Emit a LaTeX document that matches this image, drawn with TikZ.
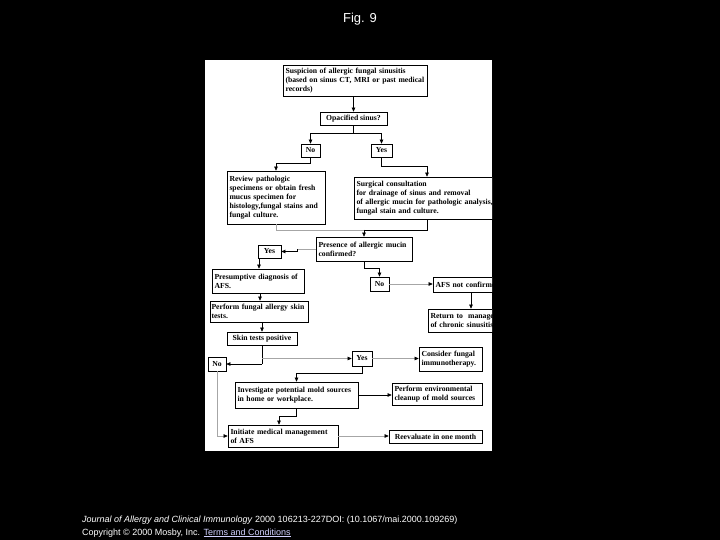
\documentclass[tikz,border=0pt]{standalone}
\usepackage{fontspec}
\setmainfont{Liberation Sans}
\newfontfamily\dfam{Liberation Serif}
\usetikzlibrary{arrows.meta}
\definecolor{linkc}{rgb}{0.82,0.82,1}
\begin{document}
\begin{tikzpicture}[x=1pt,y=-1pt,
  lbox/.style={draw, line width=0.75pt, fill=white, inner xsep=2.5pt, inner ysep=0pt, align=left,
    font=\dfam\bfseries\fontsize{7.7}{9}\selectfont},
  cbox/.style={draw, line width=0.75pt, fill=white, inner sep=0pt, align=center,
    font=\dfam\bfseries\fontsize{7.7}{9}\selectfont},
  ln/.style={line width=0.7pt},
  arr/.style={ln, -{Triangle[length=4pt,width=3.6pt]}},
  gln/.style={line width=0.7pt, draw=black!35},
  garr/.style={gln, -{Triangle[length=4pt,width=3.6pt,color=black]}},
]
\useasboundingbox (0,0) rectangle (720,540);
\fill[black] (0,0) rectangle (720,540);
\node[text=white, font=\fontsize{13}{15}\selectfont] (title) at (360,19) {Fig. 9};
\node[anchor=base west, text=white, inner sep=0pt, font=\fontsize{9}{11}\selectfont] (ref) at (82,522)
  {\textit{Journal of Allergy and Clinical Immunology} 2000 106213-227DOI: (10.1067/mai.2000.109269)};
\node[anchor=base west, text=white, inner sep=0pt, font=\fontsize{9}{11}\selectfont] (copy) at (82,535)
  {Copyright © 2000 Mosby, Inc. \textcolor{linkc}{\underline{Terms and Conditions}}};

\begin{scope}
\clip (205,60) rectangle (492,451);
\fill[white] (205,60) rectangle (492,451);

\node[lbox, text width=139pt, minimum height=31pt] (s1) at (355,80.5)
  {Suspicion of allergic fungal sinusitis\\(based on sinus CT, MRI or past medical\\records)};
\node[cbox, minimum width=67pt, minimum height=13pt] (op) at (353.5,118.5) {Opacified sinus?};
\node[cbox, minimum width=19pt, minimum height=13pt] (no1) at (310.5,150.5) {No};
\node[cbox, minimum width=21pt, minimum height=13pt] (yes1) at (381.5,150.5) {Yes};
\node[lbox, text width=93pt, minimum height=53pt] (rev) at (276,197.5)
  {Review pathologic\\specimens or obtain fresh\\mucus specimen for\\histology,fungal stains and\\fungal culture.};
\node[lbox, text width=138pt, minimum height=42pt] (surg) at (425.5,198)
  {Surgical consultation\\for drainage of sinus and removal\\of allergic mucin for pathologic analysis,\\fungal stain and culture.};
\node[lbox, text width=91pt, minimum height=24pt] (pres) at (364,249)
  {Presence of allergic mucin\\confirmed?};
\node[cbox, minimum width=23pt, minimum height=13pt] (yes2) at (269.5,251.5) {Yes};
\node[lbox, text width=87pt, minimum height=24pt] (presum) at (258,281)
  {Presumptive diagnosis of\\AFS.};
\node[lbox, inner xsep=1pt, text width=96pt, minimum height=21pt] (perf) at (259.5,311.5)
  {Perform fungal allergy skin\\tests.};
\node[cbox, minimum width=70pt, minimum height=13pt] (skin) at (262,338.5) {Skin tests positive};
\node[cbox, minimum width=19pt, minimum height=14pt] (no2) at (379.5,284) {No};
\node[lbox, text width=67pt, minimum height=15pt] (afs) at (469,284.5) {AFS not confirmed.};
\node[lbox, text width=82pt, minimum height=23pt] (ret) at (471.5,320.5)
  {Return to\ \ management\\of chronic sinusitis.};
\node[cbox, minimum width=18pt, minimum height=14pt] (no3) at (217,364) {No};
\node[cbox, minimum width=20pt, minimum height=15pt] (yes3) at (362,358.5) {Yes};
\node[lbox, text width=58pt, minimum height=24pt] (cons) at (450.5,359)
  {Consider fungal\\immunotherapy.};
\node[lbox, text width=118pt, minimum height=26pt] (inv) at (296.5,395)
  {Investigate potential mold sources\\in home or workplace.};
\node[lbox, text width=85pt, minimum height=22pt] (env) at (437,394)
  {Perform environmental\\cleanup of mold sources};
\node[lbox, text width=105pt, minimum height=22pt] (init) at (283,436)
  {Initiate medical management\\of AFS};
\node[cbox, minimum width=93pt, minimum height=13pt] (reev) at (435.5,436.5) {Reevaluate in one month};

% connectors
\coordinate (j1) at (353.5,133);
\draw[arr] (s1.south -| op.north) -- (op.north);
\draw[ln] (op.south) -- (j1);
\draw[arr] (j1) -| (no1.north);
\draw[arr] (j1) -| (yes1.north);
\coordinate (j2) at (310.5,163);
\draw[arr] (no1.south) -- (j2) -| (rev.north);
\coordinate (j3) at (381.5,166);
\coordinate (k427) at (427,166);
\draw[arr] (yes1.south) -- (j3) -- (k427) -- (k427 |- surg.north);
\coordinate (j4) at (364,230);
\draw[gln] (rev.south) |- (j4);
\draw[ln] (k427 |- surg.south) |- (j4);
\draw[arr] (j4) -- (pres.north);
\coordinate (j5) at (297,249);
\draw[gln] (pres.west) -- (j5);
\draw[arr] (j5) |- (yes2.east);
\coordinate (k259) at (259,0);
\draw[arr] (k259 |- yes2.south) -- (k259 |- presum.north);
\coordinate (k260) at (260,0);
\draw[arr] (k260 |- presum.south) -- (k260 |- perf.north);
\draw[arr] (skin.north |- perf.south) -- (skin.north);
\coordinate (j6) at (262,364);
\draw[ln] (skin.south) -- (j6);
\draw[arr] (j6) -- (no3.east);
\draw[garr] (skin.south |- yes3.west) -- (yes3.west);
\draw[garr] (no3.south) |- (init.west);
\coordinate (j7) at (362,373);
\draw[arr] (yes3.south) -- (j7) -| (inv.north);
\coordinate (j8) at (296.5,416);
\coordinate (k279) at (279,416);
\draw[arr] (inv.south) -- (j8) -- (k279) -- (k279 |- init.north);
\draw[garr] (yes3.east) -- (cons.west |- yes3.east);
\draw[arr] (inv.east) -- (env.west |- inv.east);
\draw[garr] (init.east) -- (reev.west |- init.east);
\coordinate (j9) at (364,268);
\draw[arr] (pres.south) -- (j9) -| (no2.north);
\draw[garr] (no2.east) -- (afs.west |- no2.east);
\coordinate (k471) at (471,0);
\draw[arr] (k471 |- afs.south) -- (k471 |- ret.north);
\end{scope}
\end{tikzpicture}
\end{document}
